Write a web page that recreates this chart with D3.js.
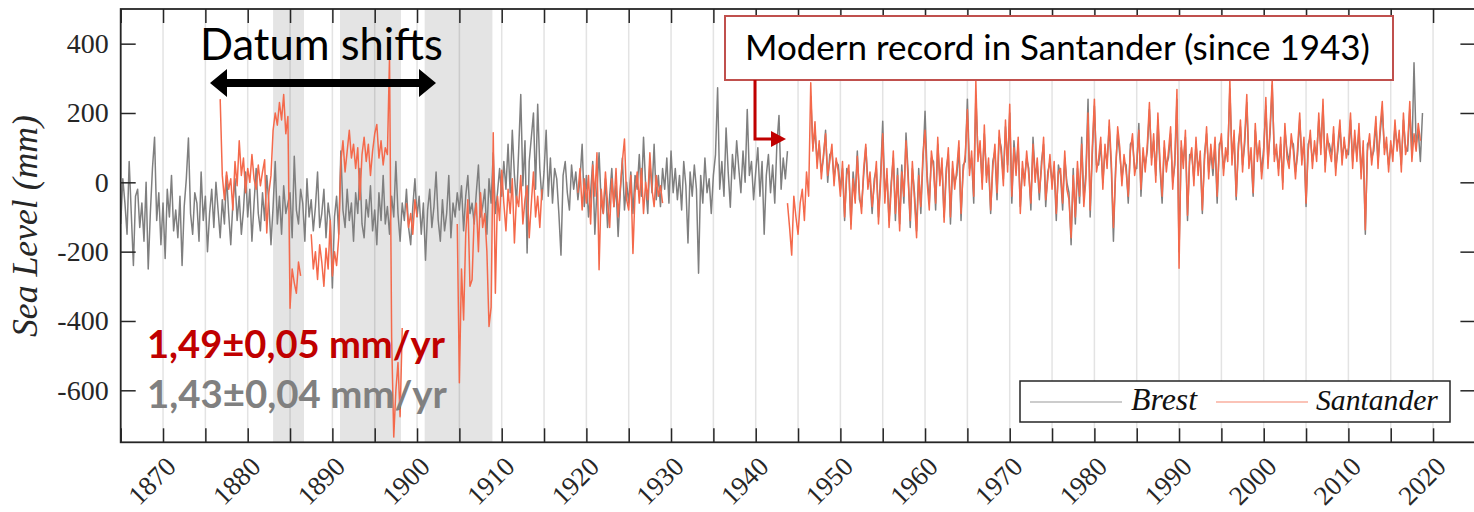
<!DOCTYPE html>
<html><head><meta charset="utf-8">
<script src="https://cdn.jsdelivr.net/npm/d3@7"></script>
<style>html,body{margin:0;padding:0;background:#fff;overflow:hidden}</style>
</head><body>
<svg id="chart" width="1474" height="512"></svg>
<script>
// ---------------- DATA ----------------
const step = 0.25;                // quarterly samples
const brestStart = 1865.0;
const brest = [
// 1865-1869
-120,10,-60,-150, 60,-90,-240,-40, -20,-130,-60,-170, 0,-250,-90,40, 130,-110,-30,-180,
// 1870-1874
-60,-220,-20,-100, 20,-140,-80,-160, -40,-240,-70,10, 128,-90,-150,-30, -60,-170,30,-110,
// 1875-1879
-40,-200,-90,-20, -130,0,-80,-160, -50,-120,20,-90, -180,-60,10,-110, -40,-150,-80,30,
// 1880-1884
-100,-20,-170,-60, 40,-90,-140,-30, -110,20,-60,-180, -70,60,-120,-40, -150,-10,-90,-60,
// 1885-1889
-30,-160,75,-80, -120,-20,-60,-170, 10,-100,-50,-140, -70,30,-130,-90, -20,-160,-60,-110,
// 1890-1894
-305,-100,-40,-150, 90,-80,-130,-20, -110,-60,-170,-30, -90,40,-120,-160, -50,-100,-10,-140,
// 1895-1899
-80,-180,-30,-110, 20,-120,-70,-150, -40,-100,60,-90, -170,-60,-110,-20, -130,-180,-70,10,
// 1900-1904
-100,-40,-150,-60, -225,-80,-20,-130, -70,30,-110,-170, -50,-140,-90,20, -160,-60,-100,-30,
// 1905-1909
-80,-10,-140,-40, 20,-90,-60,-120, -30,50,-100,-70, -20,-150,10,-60, 85,-90,-30,40,
// 1910-1914
-40,60,-20,110, -30,150,20,-60, 90,253,-10,120, -204,60,130,200, -20,225,40,-50,
// 1915-1919
30,150,-40,70, -60,40,10,-90, -210,20,60,-30, -80,50,-20,30, -50,10,110,-70,
// 1920-1924
20,-100,-30,60, -150,-20,85,-60, -90,10,-130,-40, 40,-70,-10,-156, -30,70,-80,0,
// 1925-1929
-60,30,-90,20, -20,80,-40,130, -10,-90,60,-30, 110,-50,20,-70, 40,-20,70,-60,
// 1930-1934
90,-30,40,-50, 20,-80,60,-10, -175,30,-40,50, -20,-262,20,-60, 70,-30,10,-90,
// 1935-1939
20,80,273,-20, 60,-40,157,30, -72,80,10,120, 40,-30,90,0, 210,20,60,-50,
// 1940-1944
30,100,-40,60, -150,20,80,-30, 50,-60,110,193, -20,70,10,90, null,null,null,null,
// 1945-1949
null,null,null,null, null,null,250,100, 150,60,110,30, 70,150,0,80, 90,10,60,50,
// 1950-1954
-20,40,-110,40, 30,-120,30,-40, 90,-50,-70,20, 100,0,10,-90, 10,40,-100,20,
// 1955-1959
176,-40,20,-110, 0,70,-110,40, -120,50,-60,142, 30,-130,40,-30, -140,40,-90,60,
// 1960-1964
205,20,-60,70, 60,-80,110,10, 50,-100,40,80, -120,40,0,20, 100,-110,50,60,
// 1965-1969
240,40,70,-60, 250,80,100,0, 140,20,50,-90, 60,90,-50,130, 100,10,160,50,
// 1970-1974
200,-60,120,40, 110,-70,40,10, 70,40,-80,130, 20,50,-50,60, 110,-70,30,60,
// 1975-1979
0,40,-110,50, 20,-80,70,0, -30,-180,40,-120, 40,-60,130,-50, 30,240,-100,80,
// 1980-1984
220,50,50,110, 0,90,60,160, 40,-170,40,140, 80,10,60,50, -60,110,120,40,
// 1985-1989
40,170,-40,80, 50,90,210,70, 120,20,180,40, -60,100,50,70, 140,0,50,240,
// 1990-1994
-200,100,60,130, -110,80,80,10, 110,40,70,-90, 80,140,30,90, 20,110,-60,110,
// 1995-1999
120,40,80,80, 270,70,130,-50, 110,160,50,110, 230,60,80,-40, 150,80,100,30,
// 2000-2004
100,220,60,140, 280,80,90,40, 110,0,150,90, 60,120,110,30, 80,180,70,110,
// 2005-2009
-70,110,130,60, 100,80,180,100, 220,50,120,110, 80,140,40,90, 160,70,110,90,
// 2010-2014
80,180,60,130, 80,150,30,100, -150,110,120,70, 90,170,60,140, 210,100,110,50,
// 2015-2018
100,80,160,110, 130,50,180,100, 90,210,80,345, 110,150,60,200
];

// Santander: separate segments (start year, quarterly values)
const santanderStarts = [1876.75, 1887.5, 1898.75, 1904.75, 1919.0, 1943.75];
const santander1877 = [240,
 20,-50,30,-20, 10,-80,60,-10, 120,20,70,-30, 40,0,80,10, -20,50,-10,30,
 65,-146,-30,20, 150,200,165,230, 180,253,140,190, -363,-250,-290,-320, -230,-270];
const santander1887 = [-150,-250,
 -200,-280,-180,-230, -300,-190,-250,-110, -270,-200,-240,-160,
 60,120,30,90, 150,70,110,40, 100,-50,80,130, 60,110,20,90, 140,167,70,120,
 50,100,80,362, -450,-735,-600,-520, -676,-420];
const santander1899 = [-60, -130,-90,-150,-50, -100];
const santander1905 = [-120,
 -578,-250,-397,-150, -50,-300,-281,-100, -60,-200,-30,-130, -90,-200,-416,-360,
 143,-320,-40,-110, 35,-60,-140,-20, -90,10,-175,-40, -70,20,-120,-50,
 -10,-160,-60,30, -100,-40,-130,-20];
const santander1919 = [
 -30,40,-80,10, -60,20,-120,50, -40,85,-252,-20, -90,30,-60,-130, 10,-70,40,-100,
 -20,60,125,-50, -80,20,-205,-30, 30,-60,40,-90, 0,-50,85,-20, -70,20,-40,-10, -60];
const santander1944 = [-60,
 -130,-210,-40,-100, -150,-60,-20,-110, 30,-40,287,90, 175,40,120,10, 80,140,20,60,
 110,-10,70,30, -40,60,-100,20, 50,-135,10,-60, 75,-30,-90,40, 110,-20,30,-70,
 -10,60,-120,0, 140,-60,40,-130, -20,90,-90,20, -140,30,-40,120, 10,-110,60,-50,
 -160,20,-70,80, 150,0,-80,90, 40,-60,130,-10, 70,-115,20,100, -100,60,-20,40,
 120,-90,30,80, 210,20,90,-40, 292,60,120,-20, 165,0,70,-80, 40,110,-30,150,
 80,-10,180,30, 225,-40,100,20, 130,-90,60,-10, 90,20,-60,110, 0,70,-30,40,
 130,-50,10,80, -20,60,-90,30, 40,-60,90,-20, -50,-160,20,-100, 60,-40,110,-70,
 10,200,-80,100, 240,30,70,130, -20,110,40,180, 60,-130,20,160, 100,-10,80,30,
 -40,90,140,20, 60,150,-20,100, 30,110,230,50, 140,0,200,60, -40,120,30,90,
 160,-20,70,268, -248,120,40,150, -95,60,100,-10, 130,20,90,-80, 60,160,10,110,
 40,130,-40,90, 140,20,100,60, 298,50,150,-40, 90,180,30,130, 253,40,100,-30,
 170,60,120,10, 80,245,40,160, 298,60,110,20, 130,-20,170,70, 40,140,90,10,
 100,200,50,130, -60,90,150,40, 120,60,200,80, 240,30,140,90, 60,160,20,110,
 180,50,130,70, 100,200,40,150, 60,170,10,120, -137,90,140,50, 110,190,40,160,
 233,80,130,30, 120,60,180,90, 150,30,200,80, 110,233,60,140, 90,170,120];
const santanderSegments = [santander1877, santander1887, santander1899, santander1905, santander1919, santander1944];

const datumShifts = [[1883.0, 1886.65], [1890.9, 1898.1], [1900.9, 1908.9]];
const xMinorTicks = d3.range(1865, 2021, 5);
const xTickLabels = [1870,1880,1890,1900,1910,1920,1930,1940,1950,1960,1970,1980,1990,2000,2010,2020];
const yTicks = [-600,-400,-200,0,200,400];
const seriesNames = ["Brest", "Santander"];
const seriesColors = ["#7f7f7f", "#f4694b"];

// ---------------- LAYOUT ----------------
const svg = d3.select("#chart");
const L = 120.7, R = 1475.4, T = 9, B = 442.3;
const x = d3.scaleLinear().domain([1865, 2025]).range([L, R]);
const y = d3.scaleLinear().domain([-750, 500]).range([B, T]);

svg.append("rect").attr("width",1474).attr("height",512).attr("fill","#fff");

// shaded datum shift bands
svg.append("g").selectAll("rect").data(datumShifts).join("rect")
  .attr("x", d => x(d[0])).attr("width", d => x(d[1]) - x(d[0]))
  .attr("y", T).attr("height", B - T).attr("fill", "#e4e4e4");

// vertical grid
svg.append("g").selectAll("line").data(xMinorTicks).join("line")
  .attr("x1", d => x(d)).attr("x2", d => x(d)).attr("y1", T).attr("y2", B)
  .attr("stroke", "#262626").attr("stroke-opacity", 0.13).attr("stroke-width", 1.5);

// clip
svg.append("clipPath").attr("id","clip").append("rect")
  .attr("x", L).attr("y", T).attr("width", R - L).attr("height", B - T);

const line = d3.line().defined(d => d[1] != null).x(d => x(d[0])).y(d => y(d[1]));
const brestPts = brest.map((v, i) => [brestStart + i * step, v]);
const gData = svg.append("g").attr("clip-path", "url(#clip)");
gData.append("path").datum(brestPts).attr("d", line)
  .attr("fill","none").attr("stroke", seriesColors[0]).attr("stroke-width", 1.5).attr("stroke-linejoin","round");
santanderSegments.forEach((seg, k) => {
  const pts = seg.map((v, i) => [santanderStarts[k] + i * step, v]);
  gData.append("path").datum(pts).attr("d", line)
    .attr("fill","none").attr("stroke", seriesColors[1]).attr("stroke-width", 1.5).attr("stroke-linejoin","round");
});

// axes
const axisColor = "#262626";
const serif = "'Liberation Serif', 'DejaVu Serif', serif";
const gxb = svg.append("g").attr("transform", `translate(0,${B})`)
  .call(d3.axisBottom(x).tickValues(xMinorTicks).tickSize(-14).tickFormat(""));
const gxt = svg.append("g").attr("transform", `translate(0,${T})`)
  .call(d3.axisTop(x).tickValues(xMinorTicks).tickSize(-14).tickFormat(""));
const gxl = svg.append("g").attr("transform", `translate(0,${B})`)
  .call(d3.axisBottom(x).tickValues(xTickLabels).tickSize(0).tickFormat(d3.format("d")));
gxl.selectAll("text")
  .attr("font-family", serif).attr("font-size", 27).attr("fill", axisColor)
  .attr("text-anchor", "end")
  .attr("transform", "translate(14,26) rotate(-45)")
  .attr("dy", 0).attr("y", 0).attr("x", 0);
gxl.select(".domain").remove();
const gyl = svg.append("g").attr("transform", `translate(${L},0)`)
  .call(d3.axisLeft(y).tickValues(yTicks).tickSize(-15).tickPadding(12).tickFormat(d3.format("d")));
gyl.selectAll("text").attr("font-family", serif).attr("font-size", 28).attr("fill", axisColor)
  .text(d => String(d));
svg.append("g").attr("transform", `translate(${R},0)`)
  .call(d3.axisRight(y).tickValues(yTicks).tickSize(-15).tickFormat(""));
svg.selectAll(".tick line").attr("stroke", axisColor).attr("stroke-width", 1.5);
svg.selectAll(".domain").remove();
svg.append("rect").attr("x", L).attr("y", T).attr("width", R - L).attr("height", B - T)
  .attr("fill","none").attr("stroke", axisColor).attr("stroke-width", 1.8);

// fit text helper
function fit(sel, target) {
  const w = sel.node().getComputedTextLength();
  const fs = parseFloat(sel.attr("font-size"));
  sel.attr("font-size", fs * target / w);
}

// y label
const yl = svg.append("text").attr("transform", `translate(37,226) rotate(-90)`)
  .attr("text-anchor","middle").attr("font-family", serif).attr("font-style","italic")
  .attr("font-size", 29).attr("fill", axisColor).text("Sea Level (mm)");
fit(yl, 222);

// legend
const leg = svg.append("g");
leg.append("rect").attr("x",1020).attr("y",381).attr("width",430).attr("height",41)
  .attr("fill","#fff").attr("stroke", axisColor).attr("stroke-width",1.5);
const legX = [[1030, 1122, 1131, 66], [1216, 1308, 1316, 122]];
seriesNames.forEach((n, i) => {
  leg.append("line").attr("x1", legX[i][0]).attr("x2", legX[i][1]).attr("y1", 402).attr("y2", 402)
    .attr("stroke", seriesColors[i]).attr("stroke-width", 1).attr("stroke-opacity", 0.8);
  const t = leg.append("text").attr("x", legX[i][2]).attr("y", 410).attr("font-family", serif)
    .attr("font-style","italic").attr("font-size", 26).attr("fill","#111").text(n);
  fit(t, legX[i][3]);
});

const sans = "Lato, 'Open Sans', 'Noto Sans', sans-serif";

// Datum shifts annotation
const ds = svg.append("text").attr("x", 200).attr("y", 60).attr("font-family", sans)
  .attr("font-size", 38).attr("fill", "#000").text("Datum shifts");
fit(ds, 243);
const arrowY = 83, ax0 = 210, ax1 = 436;
svg.append("path").attr("fill","#000")
  .attr("d", `M${ax0},${arrowY} L${ax0+17},${arrowY-14} L${ax0+17},${arrowY-4} L${ax1-17},${arrowY-4} L${ax1-17},${arrowY-14} L${ax1},${arrowY} L${ax1-17},${arrowY+14} L${ax1-17},${arrowY+4} L${ax0+17},${arrowY+4} L${ax0+17},${arrowY+14} Z`);

// Modern record box
svg.append("rect").attr("x",725).attr("y",16).attr("width",668).attr("height",64)
  .attr("fill","#fff").attr("stroke","#c0504d").attr("stroke-width",2);
const mr = svg.append("text").attr("x", 745).attr("y", 60).attr("font-family", sans)
  .attr("font-size", 30).attr("fill","#000").text("Modern record in Santander (since 1943)");
fit(mr, 625);
svg.append("path").attr("fill","none").attr("stroke","#c00000").attr("stroke-width",3)
  .attr("d", "M755,80 L755,139 L773,139");
svg.append("path").attr("fill","#c00000").attr("d","M771,131 L786,139 L771,147 Z");

// trend texts
const t1 = svg.append("text").attr("x",147).attr("y",358).attr("font-family", sans)
  .attr("font-weight","bold").attr("font-size",34).attr("fill","#c00000").text("1,49±0,05 mm/yr");
fit(t1, 298);
const t2 = svg.append("text").attr("x",147).attr("y",408).attr("font-family", sans)
  .attr("font-weight","bold").attr("font-size",34).attr("fill","#808080").text("1,43±0,04 mm/yr");
fit(t2, 300);
</script>
</body></html>
